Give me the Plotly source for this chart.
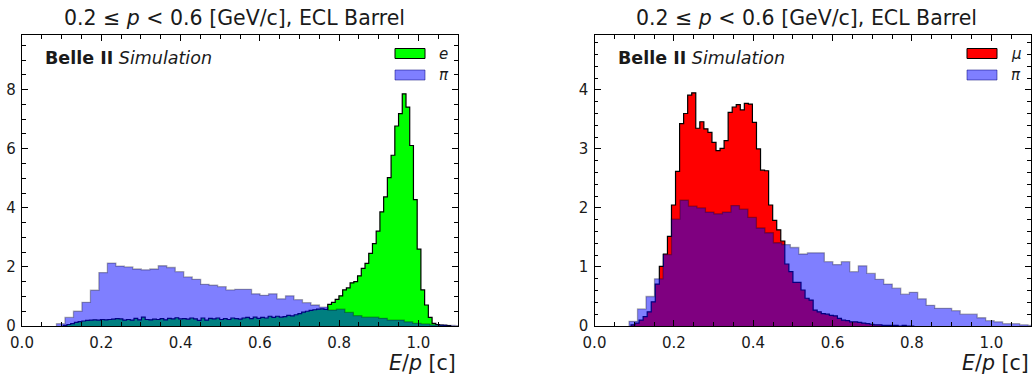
import plotly.graph_objects as go

# ---------------- data ----------------
# pion E/p density (same sample in both panels), 50 bins
pi_start = 0.087
pi_width = 0.0214
pi_vals = [0.08, 0.29, 0.50, 0.80, 1.21, 1.81, 2.13, 2.03, 2.00, 1.93,
           1.90, 1.93, 2.04, 1.98, 1.84, 1.66, 1.58, 1.41, 1.38, 1.33,
           1.22, 1.24, 1.24, 1.09, 1.04, 1.09, 0.92, 1.02, 0.89, 0.79,
           0.71, 0.64, 0.54, 0.57, 0.46, 0.35, 0.30, 0.30, 0.26, 0.20,
           0.20, 0.14, 0.09, 0.07, 0.04, 0.04, 0.02, 0.01, 0.01, 0.0]

# electron E/p density
e_start = 0.104
e_width = 0.0094
e_vals = [0.02, 0.05, 0.08, 0.12, 0.15, 0.17, 0.19, 0.20, 0.21, 0.20,
          0.22, 0.21, 0.22, 0.23, 0.25, 0.24, 0.20, 0.22, 0.20, 0.26,
          0.21, 0.30, 0.22, 0.21, 0.23, 0.22, 0.25, 0.21, 0.26, 0.24,
          0.28, 0.24, 0.25, 0.23, 0.27, 0.24, 0.19, 0.27, 0.20, 0.26,
          0.24, 0.27, 0.22, 0.25, 0.22, 0.27, 0.25, 0.23, 0.27, 0.29,
          0.25, 0.30, 0.26, 0.29, 0.27, 0.33, 0.29, 0.33, 0.30, 0.32,
          0.36, 0.34, 0.38, 0.42, 0.47, 0.50, 0.53, 0.55, 0.57, 0.58,
          0.56, 0.73, 0.80, 0.90, 1.02, 1.22, 1.29, 1.46, 1.50, 1.70,
          1.95, 2.12, 2.46, 2.79, 3.21, 3.86, 4.37, 5.02, 5.78, 6.77,
          7.19, 7.86, 7.41, 6.11, 4.28, 2.60, 1.22, 0.71, 0.29, 0.09,
          0.05, 0.03, 0.02, 0.01]

# muon E/p density
mu_start = 0.092
mu_width = 0.0102
mu_vals = [0.02, 0.05, 0.10, 0.16, 0.24, 0.41, 0.71, 1.01, 1.22, 1.52,
           2.05, 2.62, 3.43, 3.60, 3.91, 3.95, 3.35, 3.46, 3.34, 3.28,
           3.11, 2.97, 3.01, 3.14, 3.62, 3.71, 3.75, 3.66, 3.77, 3.76,
           3.45, 3.00, 2.64, 2.63, 2.05, 1.79, 1.63, 1.44, 1.05, 0.92,
           0.74, 0.74, 0.61, 0.47, 0.44, 0.27, 0.24, 0.21, 0.20, 0.18,
           0.17, 0.13, 0.10, 0.09, 0.07, 0.07, 0.06, 0.05, 0.04, 0.03,
           0.02, 0.02, 0.01, 0.01, 0.01, 0.01, 0.0, 0.01, 0.0, 0.0]

title_text = "0.2 ≤ <i>p</i> < 0.6 [GeV/c], ECL Barrel"
xlabel_text = "<i>E</i>/<i>p</i> [c]"
x_ticks = [0.0, 0.2, 0.4, 0.6, 0.8, 1.0]
y_ticks_left = [0, 2, 4, 6, 8]
y_ticks_right = [0, 1, 2, 3, 4]

# ---------------- layout geometry ----------------
W, H = 1032, 376
ML, MR, MT, MB = 22, 1, 35, 50
PW = W - ML - MR
PH = H - MT - MB


def fx(px):
    return (px - ML) / PW


def fy(py):
    return (H - MB - py) / PH


def step_xy(start, width, vals):
    xs = [start]
    ys = [0.0]
    for i, v in enumerate(vals):
        xs.append(start + i * width)
        ys.append(v)
    xs.append(start + len(vals) * width)
    ys.append(vals[-1])
    xs.append(start + len(vals) * width)
    ys.append(0.0)
    return xs, ys


fig = go.Figure()

E_FILL = "#00ff00"
MU_FILL = "#ff0000"
PI_FILL = "rgba(0,0,255,0.5)"
PI_LINE = "rgba(0,0,0,0.3)"

# left panel
x, y = step_xy(e_start, e_width, e_vals)
fig.add_trace(go.Scatter(x=x, y=y, mode="lines", line=dict(shape="hv", color="black", width=1.2),
                         fill="tozeroy", fillcolor=E_FILL, xaxis="x", yaxis="y", showlegend=False))
x, y = step_xy(pi_start, pi_width, pi_vals)
fig.add_trace(go.Scatter(x=x, y=y, mode="lines", line=dict(shape="hv", color=PI_LINE, width=1.3),
                         fill="tozeroy", fillcolor=PI_FILL, xaxis="x", yaxis="y", showlegend=False))
# right panel
x, y = step_xy(mu_start, mu_width, mu_vals)
fig.add_trace(go.Scatter(x=x, y=y, mode="lines", line=dict(shape="hv", color="black", width=1.2),
                         fill="tozeroy", fillcolor=MU_FILL, xaxis="x2", yaxis="y2", showlegend=False))
x, y = step_xy(pi_start, pi_width, pi_vals)
fig.add_trace(go.Scatter(x=x, y=y, mode="lines", line=dict(shape="hv", color=PI_LINE, width=1.3),
                         fill="tozeroy", fillcolor=PI_FILL, xaxis="x2", yaxis="y2", showlegend=False))

TXT = "#1a1a1a"
FONT = "DejaVu Sans"

common_x = dict(range=[0, 1.1], tickvals=x_ticks, ticktext=[f"{v:.1f}" for v in x_ticks],
                ticks="inside", ticklen=6, tickwidth=1, tickcolor="black",
                showline=True, linecolor="black", linewidth=1.3, mirror="ticks",
                showgrid=False, zeroline=False, ticklabelstandoff=3,
                minor=dict(dtick=0.05, tick0=0, ticks="inside", ticklen=3.5, tickwidth=1, tickcolor="black"),
                tickfont=dict(family=FONT, size=15, color=TXT))
common_y = dict(ticks="inside", ticklen=6, tickwidth=1, tickcolor="black",
                showline=True, linecolor="black", linewidth=1.3, mirror="ticks",
                showgrid=False, zeroline=False, ticklabelstandoff=2,
                tickfont=dict(family=FONT, size=15, color=TXT))

d1 = [0, fx(458)]
d2 = [fx(594.5), 1]

fig.update_layout(
    width=W, height=H,
    margin=dict(l=ML, r=MR, t=MT, b=MB),
    paper_bgcolor="white", plot_bgcolor="white",
    font=dict(family=FONT, color=TXT),
    xaxis=dict(domain=d1, anchor="y", **common_x),
    yaxis=dict(domain=[0, 1], anchor="x", range=[0, 9.85], tickvals=y_ticks_left,
               minor=dict(dtick=0.5, tick0=0, ticks="inside", ticklen=3.5, tickwidth=1, tickcolor="black"),
               **common_y),
    xaxis2=dict(domain=d2, anchor="y2", **common_x),
    yaxis2=dict(domain=[0, 1], anchor="x2", range=[0, 4.93], tickvals=y_ticks_right,
                minor=dict(dtick=0.2, tick0=0, ticks="inside", ticklen=3.5, tickwidth=1, tickcolor="black"),
                **common_y),
    showlegend=False,
)

ann = []
shapes = []
for (x0, x1, lab1, col1, belle_x, leg_x) in [
    (22, 458, "<i>e</i>", E_FILL, 44, 395),
    (594.5, 1031, "<i>μ</i>", MU_FILL, 617, 967),
]:
    cx = (x0 + x1) / 2 - 6
    ann.append(dict(x=fx(cx), y=fy(18), xref="paper", yref="paper", text=title_text,
                    showarrow=False, xanchor="center", yanchor="middle",
                    font=dict(family=FONT, size=20.5, color=TXT)))
    ann.append(dict(x=fx(x1), y=fy(363), xref="paper", yref="paper", text=xlabel_text,
                    showarrow=False, xanchor="right", yanchor="middle",
                    font=dict(family=FONT, size=20.5, color=TXT)))
    ann.append(dict(x=fx(belle_x - 1), y=fy(58), xref="paper", yref="paper",
                    text="<b>Belle II</b> <i>Simulation</i>",
                    showarrow=False, xanchor="left", yanchor="middle",
                    font=dict(family=FONT, size=17.5, color=TXT)))
    # legend patches
    shapes.append(dict(type="rect", xref="paper", yref="paper",
                       x0=fx(leg_x), x1=fx(leg_x + 30), y0=fy(58.5), y1=fy(48.5),
                       fillcolor=col1, line=dict(color="black", width=1)))
    shapes.append(dict(type="rect", xref="paper", yref="paper",
                       x0=fx(leg_x), x1=fx(leg_x + 30), y0=fy(80), y1=fy(70),
                       fillcolor=PI_FILL, line=dict(color="rgba(0,0,120,0.5)", width=1)))
    ann.append(dict(x=fx(leg_x + 42), y=fy(53.5), xref="paper", yref="paper", text=lab1,
                    showarrow=False, xanchor="left", yanchor="middle",
                    font=dict(family=FONT, size=15, color=TXT)))
    ann.append(dict(x=fx(leg_x + 42), y=fy(75), xref="paper", yref="paper", text="<i>π</i>",
                    showarrow=False, xanchor="left", yanchor="middle",
                    font=dict(family=FONT, size=15, color=TXT)))

fig.update_layout(annotations=ann, shapes=shapes)
fig.write_html("out.html")
